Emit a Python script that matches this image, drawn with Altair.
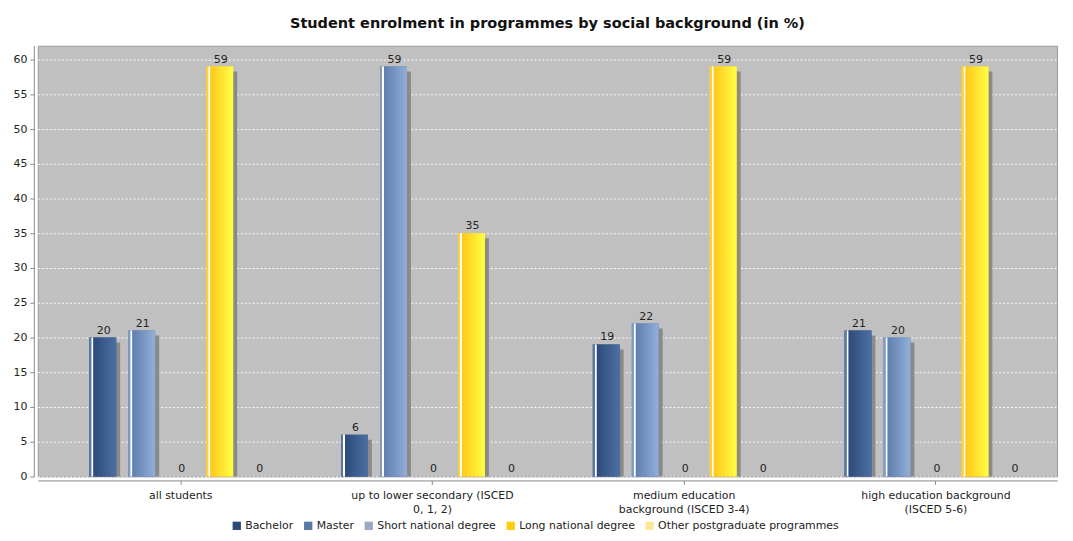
import altair as alt
import pandas as pd

groups = [
    "all students",
    "up to lower secondary (ISCED 0, 1, 2)",
    "medium education background (ISCED 3-4)",
    "high education background (ISCED 5-6)",
]
group_lines = [
    ["all students"],
    ["up to lower secondary (ISCED", "0, 1, 2)"],
    ["medium education", "background (ISCED 3-4)"],
    ["high education background", "(ISCED 5-6)"],
]
series = ["Bachelor", "Master", "Short national degree", "Long national degree", "Other postgraduate programmes"]
bachelor = [20, 6, 19, 21]
master = [21, 59, 22, 20]
short_nat = [0, 0, 0, 0]
long_nat = [59, 35, 59, 59]
other_pg = [0, 0, 0, 0]

colors = ["#2c4a78", "#5a76a4", "#9aa9c2", "#ffcc11", "#ffe79a"]
grad = [
    ("#5878a8", "#2d4b7a", "#4c70a4"),
    ("#7f9cc6", "#5f7faf", "#93afd9"),
    ("#b6c2d6", "#9aa9c2", "#c2cde0"),
    ("#ffd233", "#ffc81a", "#ffff44"),
    ("#fff0b8", "#ffe79a", "#fff4c8"),
]

rows = []
for vals, s in zip([bachelor, master, short_nat, long_nat, other_pg], series):
    for g, v in zip(groups, vals):
        rows.append({"group": g, "series": s, "value": v})
df = pd.DataFrame(rows)

label_expr = " : ".join(
    f"datum.value == '{g}' ? {lines!r}" for g, lines in zip(groups, group_lines)
) + " : datum.value"

x_enc = alt.X(
    "group:N", sort=groups, title=None,
    scale=alt.Scale(paddingInner=0.237, paddingOuter=0.143, align=0.652),
    axis=alt.Axis(labelAngle=0, labelExpr=label_expr, labelFontSize=11, labelColor="#222",
                  domainColor="#888", tickColor="#888", tickSize=4, offset=4,
                  labelPadding=5, labelLineHeight=14, labelFont="DejaVu Sans"),
)
xo_enc = alt.XOffset("series:N", sort=series,
                     scale=alt.Scale(domain=series, paddingInner=0.31, paddingOuter=0.118))
xo_shadow = alt.XOffset("series:N", sort=series,
                        scale=alt.Scale(domain=series, paddingInner=0.31, paddingOuter=0.118, align=0.93))
y_enc = alt.Y(
    "value:Q", title=None, stack=None,
    scale=alt.Scale(domain=[0, 62], nice=False),
    axis=alt.Axis(values=list(range(0, 61, 5)), grid=True, gridColor="white", gridDash=[2, 2],
                  gridOpacity=0.9, domainColor="#888", tickColor="#888", tickSize=4, offset=4,
                  labelFontSize=11, labelColor="#222", labelPadding=3, labelFont="DejaVu Sans"),
)

base = alt.Chart(df)

shadow = base.transform_filter("datum.value > 0").mark_bar(
    color="#8a8a8a", yOffset=5, y2Offset=0
).encode(x=x_enc, xOffset=xo_shadow, y=y_enc)

main = base.mark_bar().encode(
    x=x_enc, xOffset=xo_enc, y=y_enc,
    color=alt.Color("series:N", sort=series,
                    scale=alt.Scale(domain=series, range=colors),
                    legend=alt.Legend(orient="none", legendX=195, legendY=478, direction="horizontal",
                                      title=None, symbolType="square", symbolSize=70,
                                      labelFontSize=11, labelFont="DejaVu Sans", labelColor="#222",
                                      columnPadding=9, labelLimit=0, symbolStrokeWidth=0,
                                      labelOffset=3)),
)

overlays = []
for s, (edge, dark, light) in zip(series, grad):
    g = alt.LinearGradient(
        gradient="linear", x1=0, x2=1, y1=0, y2=0,
        stops=[
            alt.GradientStop(offset=0.0, color=edge),
            alt.GradientStop(offset=0.07, color=edge),
            alt.GradientStop(offset=0.09, color="#ffffff"),
            alt.GradientStop(offset=0.13, color="#ffffff"),
            alt.GradientStop(offset=0.16, color=dark),
            alt.GradientStop(offset=1.0, color=light),
        ],
    )
    overlays.append(
        base.transform_filter(f"datum.series == '{s}' && datum.value > 0").mark_bar(color=g)
        .encode(x=x_enc, xOffset=xo_enc, y=y_enc)
    )

labels = base.mark_text(dy=-7, dx=1, fontSize=11, font="DejaVu Sans", color="#222").encode(
    x=x_enc, xOffset=xo_enc, y=y_enc, text=alt.Text("value:Q")
)

front = alt.layer(main, *overlays, labels)

chart = alt.layer(shadow, front).resolve_scale(xOffset="independent").properties(
    width=1027, height=434,
    title=alt.TitleParams("Student enrolment in programmes by social background (in %)",
                          font="DejaVu Sans", fontSize=14.6, fontWeight="bold", color="#111",
                          offset=15),
    autosize=alt.AutoSizeParams(type="none"),
    padding={"left": 30, "top": 36, "right": 8, "bottom": 55},
    background="white",
).configure_view(fill="#c0c0c0", stroke="#999", strokeWidth=1)

chart.save("out.html", embed_options={"renderer": "svg", "actions": False})
